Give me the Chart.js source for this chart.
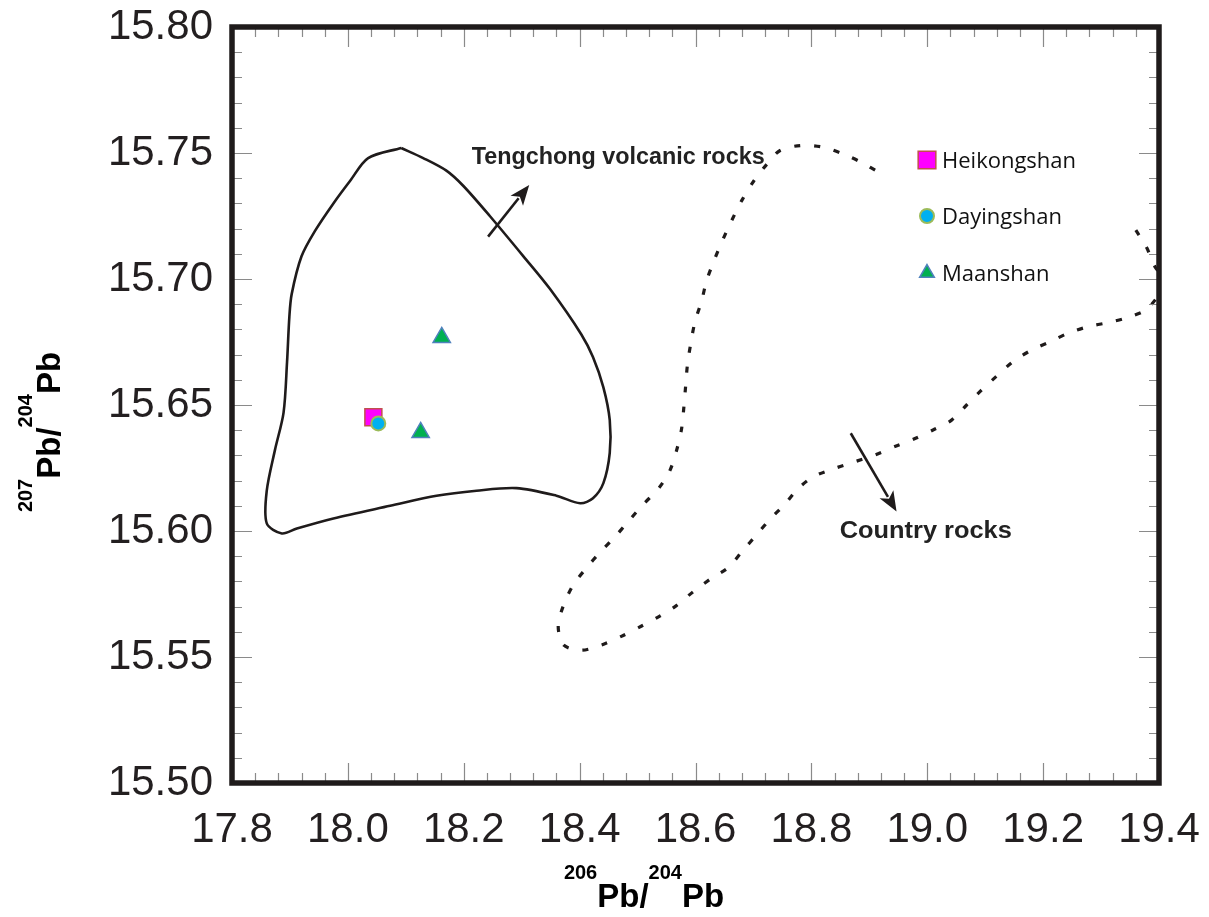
<!DOCTYPE html>
<html>
<head>
<meta charset="utf-8">
<script src="https://cdn.jsdelivr.net/npm/chart.js@4.4.1/dist/chart.umd.min.js"></script>
<style>
html,body{margin:0;padding:0;background:#fff}
canvas{display:block}
</style>
</head>
<body>
<canvas id="leadChart" width="1209" height="917"></canvas>
<script>
// samples: 206Pb/204Pb (x) and 207Pb/204Pb (y)
const heikongshanX=[18.044]
const heikongshanY=[15.6451]
const dayingshanX=[18.0525]
const dayingshanY=[15.6427]
const maanshanX=[18.162,18.1256]
const maanshanY=[15.6768,15.6391]

// Tengchong volcanic rocks field, closed outline
const tengchongX=[18.092,18.035,18.004,17.975,17.943,17.920,17.903,17.899,17.895,17.889,17.874,17.860,17.860,17.886,17.912,17.975,18.073,18.153,18.222,18.291,18.360,18.401,18.423,18.441,18.452,18.452,18.441,18.423,18.403,18.349,18.303,18.245,18.199,18.170,18.130,18.092]
const tengchongY=[15.752,15.748,15.739,15.730,15.719,15.709,15.694,15.685,15.667,15.647,15.632,15.616,15.603,15.599,15.601,15.605,15.610,15.614,15.616,15.617,15.614,15.611,15.613,15.619,15.631,15.644,15.657,15.669,15.678,15.696,15.709,15.725,15.737,15.743,15.748,15.752]

// country rocks field, dotted open outline
const countryX=[19.360,19.378,19.393,19.410,19.381,19.347,19.312,19.278,19.243,19.212,19.180,19.148,19.120,19.094,19.068,19.042,19.010,18.976,18.944,18.910,18.875,18.841,18.803,18.777,18.754,18.728,18.705,18.682,18.656,18.628,18.596,18.567,18.539,18.507,18.472,18.438,18.403,18.372,18.363,18.372,18.389,18.412,18.435,18.461,18.484,18.510,18.536,18.555,18.567,18.576,18.580,18.583,18.586,18.592,18.599,18.611,18.619,18.632,18.647,18.662,18.680,18.700,18.723,18.746,18.783,18.820,18.855,18.887,18.918]
const countryY=[15.7194,15.7128,15.7049,15.699,15.6884,15.6848,15.6827,15.6811,15.6785,15.6751,15.6718,15.6672,15.6615,15.6560,15.6500,15.6440,15.6401,15.6364,15.6335,15.6302,15.6275,15.6249,15.6215,15.6168,15.6106,15.6045,15.5984,15.5923,15.5854,15.5813,15.5759,15.5704,15.5663,15.5623,15.5582,15.5548,15.5527,15.5548,15.5623,15.5704,15.5786,15.5854,15.5915,15.5977,15.6038,15.6106,15.6168,15.6236,15.6317,15.6406,15.6494,15.6576,15.6658,15.6747,15.6829,15.6917,15.6992,15.7073,15.7155,15.7230,15.7312,15.7387,15.7455,15.7510,15.7530,15.7523,15.7496,15.7462,15.7421]

// axis tick labels
const xTickValues=[17.8,18.0,18.2,18.4,18.6,18.8,19.0,19.2,19.4]
const yTickValues=[15.50,15.55,15.60,15.65,15.70,15.75,15.80]

const legendNames=["Heikongshan","Dayingshan","Maanshan"]

const toPts=(xs,ys)=>xs.map((x,i)=>({x:x,y:ys[i]}))

const ink='#1f1b1b'

function fitText(ctx,text,x,y,width,font){
ctx.font=font
const w=ctx.measureText(text).width
ctx.save()
ctx.translate(x,y)
ctx.scale(width/w,1)
ctx.fillText(text,0,0)
ctx.restore()
}

function arrow(ctx,x0,y0,x1,y1){
const a=Math.atan2(y1-y0,x1-x0), len=20, hw=8
const bx=x1-Math.cos(a)*len, by=y1-Math.sin(a)*len
ctx.beginPath()
ctx.moveTo(x0,y0)
ctx.lineTo(bx+Math.cos(a)*3,by+Math.sin(a)*3)
ctx.stroke()
ctx.beginPath()
ctx.moveTo(x1,y1)
ctx.lineTo(bx-Math.sin(a)*hw,by+Math.cos(a)*hw)
ctx.lineTo(bx+Math.cos(a)*5,by+Math.sin(a)*5)
ctx.lineTo(bx+Math.sin(a)*hw,by-Math.cos(a)*hw)
ctx.closePath()
ctx.fill()
}

// superscript axis title like 206Pb/204Pb
const bigFont='bold 33px "Liberation Sans", Arial, sans-serif'
const supFont='bold 20px "Liberation Sans", Arial, sans-serif'
function isoTitle(ctx,parts,x,y,rot){
ctx.save()
ctx.translate(x,y)
ctx.rotate(rot)
let total=0
parts.forEach(p=>{ctx.font=p.sup?supFont:bigFont;p.w=ctx.measureText(p.t).width;total+=p.w})
let cx=-total/2
ctx.textAlign='left'
ctx.textBaseline='alphabetic'
parts.forEach(p=>{
ctx.font=p.sup?supFont:bigFont
ctx.fillText(p.t,cx,p.sup?-28:0)
cx+=p.w
})
ctx.restore()
}

const decorPlugin={
id:'decor',
afterDraw(chart){
const ctx=chart.ctx, ca=chart.chartArea
const xs=chart.scales.x, ys=chart.scales.y
ctx.save()
// inward ticks on all four sides
ctx.strokeStyle='#8a8a8a'
ctx.lineWidth=1.2
for(let i=0;i<=40;i++){
const v=17.8+i*0.04, px=Math.round(xs.getPixelForValue(v))+0.5
const L=(i%5===0)?20:10
ctx.beginPath()
ctx.moveTo(px,ca.bottom);ctx.lineTo(px,ca.bottom-L)
ctx.moveTo(px,ca.top);ctx.lineTo(px,ca.top+L)
ctx.stroke()
}
for(let i=0;i<=30;i++){
const v=15.5+i*0.01, py=Math.round(ys.getPixelForValue(v))+0.5
const L=(i%5===0)?20:10
ctx.beginPath()
ctx.moveTo(ca.left,py);ctx.lineTo(ca.left+L,py)
ctx.moveTo(ca.right,py);ctx.lineTo(ca.right-L,py)
ctx.stroke()
}
// frame
ctx.strokeStyle=ink
ctx.lineWidth=5.5
ctx.strokeRect(ca.left,ca.top,ca.right-ca.left,ca.bottom-ca.top)

// arrows
ctx.strokeStyle=ink
ctx.fillStyle=ink
ctx.lineWidth=2.6
arrow(ctx,xs.getPixelForValue(18.242),ys.getPixelForValue(15.7168),xs.getPixelForValue(18.313),ys.getPixelForValue(15.7373))
arrow(ctx,xs.getPixelForValue(18.868),ys.getPixelForValue(15.6388),xs.getPixelForValue(18.947),ys.getPixelForValue(15.6077))

// field labels
ctx.fillStyle='#222'
ctx.textBaseline='alphabetic'
ctx.textAlign='left'
fitText(ctx,'Tengchong volcanic rocks',xs.getPixelForValue(18.2136),ys.getPixelForValue(15.7455),293,'bold 24px "Liberation Sans"')
fitText(ctx,'Country rocks',xs.getPixelForValue(18.849),ys.getPixelForValue(15.5971),172,'bold 23px "Liberation Sans"')

// legend
const lx=ca.right-232, tx=ca.right-217
const rows=[
{name:legendNames[0],style:'rect',r:12.5,bg:'#FF00FF',bd:'#C0504D',bw:1.5,y:ca.top+133},
{name:legendNames[1],style:'circle',r:7,bg:'#00B0F0',bd:'#9BBB59',bw:2,y:ca.top+189},
{name:legendNames[2],style:'triangle',r:8.5,bg:'#00B050',bd:'#4F81BD',bw:1.5,y:ca.top+246}
]
rows.forEach(r=>{
ctx.fillStyle=r.bg
ctx.strokeStyle=r.bd
ctx.lineWidth=r.bw
Chart.helpers.drawPoint(ctx,{pointStyle:r.style,radius:r.r,borderWidth:r.bw,rotation:0},lx,r.y)
ctx.fillStyle='#111'
ctx.font='22px "Open Sans"'
ctx.textBaseline='alphabetic'
ctx.fillText(r.name,tx,r.y+8)
})

// axis titles
ctx.fillStyle='#000'
isoTitle(ctx,[{t:'206',sup:true},{t:'Pb/'},{t:'204',sup:true},{t:'Pb'}],644,907,0)
isoTitle(ctx,[{t:'207',sup:true},{t:'Pb/'},{t:'204',sup:true},{t:'Pb'}],60,432,-Math.PI/2)
ctx.restore()
}
}

const tickFont={family:'"Liberation Sans", Arial, sans-serif',size:42}

// drop the label overflow padding so the plot box sits where the layout puts it
function noPad(s){s.paddingTop=0;s.paddingBottom=0;s.paddingLeft=0;s.paddingRight=0}

let leadChart=new Chart(
document.getElementById('leadChart'),
{
type:'scatter',
data:{
datasets:[
{label:legendNames[1],data:toPts(dayingshanX,dayingshanY),pointStyle:'circle',pointRadius:7,backgroundColor:'#00B0F0',borderColor:'#9BBB59',borderWidth:2},
{label:legendNames[0],data:toPts(heikongshanX,heikongshanY),pointStyle:'rect',pointRadius:12,backgroundColor:'#FF00FF',borderColor:'#C0504D',borderWidth:1.5},
{label:legendNames[2],data:toPts(maanshanX,maanshanY),pointStyle:'triangle',pointRadius:10,backgroundColor:'#00B050',borderColor:'#4F81BD',borderWidth:1.5},
{label:'Tengchong volcanic rocks',data:toPts(tengchongX,tengchongY),showLine:true,pointRadius:0,borderColor:ink,borderWidth:2.6,tension:0.3,fill:false},
{label:'Country rocks',data:toPts(countryX,countryY),showLine:true,pointRadius:0,borderColor:ink,borderWidth:3.2,borderDash:[6,14],tension:0.3,fill:false}
]
},
options:{
responsive:false,
animation:false,
events:[],
layout:{padding:{top:27,right:50,left:0,bottom:0}},
plugins:{legend:{display:false},tooltip:{enabled:false},title:{display:false}},
scales:{
x:{
type:'linear',min:17.8,max:19.4,
grid:{display:false,drawTicks:false},
border:{display:false},
afterBuildTicks:s=>{s.ticks=xTickValues.map(v=>({value:v}))},
afterFit:s=>{s.height=134;noPad(s)},
ticks:{font:tickFont,color:'#231f20',padding:22,maxRotation:0,autoSkip:false,callback:v=>v.toFixed(1)}
},
y:{
type:'linear',min:15.5,max:15.8,
grid:{display:false,drawTicks:false},
border:{display:false},
afterBuildTicks:s=>{s.ticks=yTickValues.map(v=>({value:v}))},
afterFit:s=>{s.width=232;noPad(s)},
ticks:{font:tickFont,color:'#231f20',padding:19,autoSkip:false,callback:v=>v.toFixed(2)}
}
}
},
plugins:[decorPlugin]
}
)
</script>
</body>
</html>
